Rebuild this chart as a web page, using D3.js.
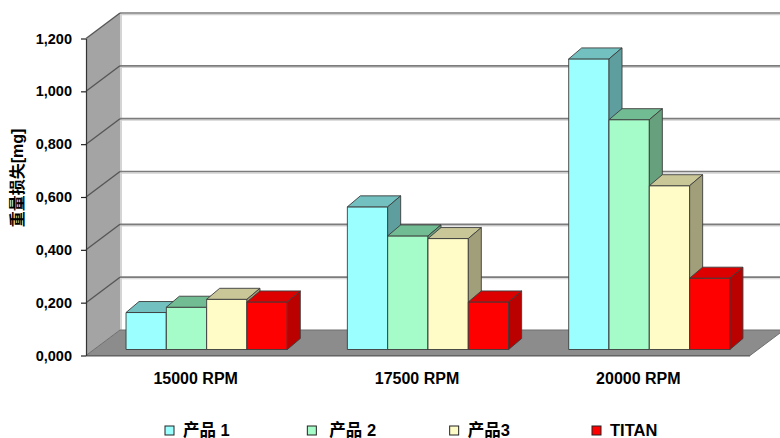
<!DOCTYPE html>
<html>
<head>
<meta charset="utf-8">
<script src="https://cdn.jsdelivr.net/npm/d3@7/dist/d3.min.js"></script>
<style>
  html, body { margin: 0; padding: 0; background: #fff; }
  svg { display: block; }
  text { font-family: "Liberation Sans", Arial, "Noto Sans CJK SC", sans-serif; font-weight: bold; fill: #000; }
</style>
</head>
<body>
<svg id="chart" width="780" height="438"></svg>
<script>
// Wear test: weight loss per speed for three products and TITAN
const categories = ["15000 RPM", "17500 RPM", "20000 RPM"];
const seriesNames = ["产品 1", "产品 2", "产品3", "TITAN"];
const product1 = [0.14, 0.54, 1.10];
const product2 = [0.16, 0.43, 0.87];
const product3 = [0.19, 0.42, 0.62];
const titan    = [0.18, 0.18, 0.27];
const yTicks = [0, 0.2, 0.4, 0.6, 0.8, 1.0, 1.2];
const yTickLabels = ["0,000", "0,200", "0,400", "0,600", "0,800", "1,000", "1,200"];
const yTitle = "重量损失[mg]";

const seriesValues = [product1, product2, product3, titan];

// face colours (front, top, right side)
const frontColors = ["#9cffff", "#a6fcc8", "#fffcc8", "#ff0000"];
const topColors   = ["#72c0c0", "#72bc94", "#c9c697", "#dd0000"];
const sideColors  = ["#5f9e9e", "#67a07d", "#a19f7a", "#bb0000"];

const svg = d3.select("#chart");

// oblique projection: front plane of the plot and depth offset to the back wall
const X0 = 86, X1 = 750;
const DX = 34, DY = -25.5;
// bars sit slightly behind the front plane and have their own depth
const BDX = 10, BDY = -6;
const BW_DX = 13, BW_DY = -11;

const y = d3.scaleLinear().domain([0, 1.2]).range([355.5, 38.5]);
const x = d3.scaleBand().domain(categories).range([X0, X1]).paddingInner(0).paddingOuter(0);
const xs = d3.scaleBand().domain(seriesNames).range([0, x.bandwidth()]).paddingInner(0).paddingOuter(0.745);

const poly = pts => "M" + pts.map(p => p.join(",")).join("L") + "Z";

// ---- walls and floor
const walls = svg.append("g");
// back wall
walls.append("path")
  .attr("d", poly([[X0 + DX, y(1.2) + DY], [X1 + DX + 10, y(1.2) + DY], [X1 + DX + 10, y(0) + DY], [X0 + DX, y(0) + DY]]))
  .attr("fill", "#ffffff");
// left side wall
walls.append("path")
  .attr("d", poly([[X0, y(1.2)], [X0 + DX, y(1.2) + DY], [X0 + DX, y(0) + DY], [X0, y(0)]]))
  .attr("fill", "#a4a4a4");
// light edge where the side wall meets the back wall
walls.append("line")
  .attr("x1", X0 + DX + 1).attr("x2", X0 + DX + 1)
  .attr("y1", y(1.2) + DY).attr("y2", y(0) + DY)
  .attr("stroke", "#d4d4d4").attr("stroke-width", 2);
// floor
walls.append("path")
  .attr("d", poly([[X0, y(0)], [X1, y(0)], [X1 + DX, y(0) + DY], [X0 + DX, y(0) + DY]]))
  .attr("fill", "#8c8c8c")
  .attr("stroke", "#6e6e6e").attr("stroke-width", 1);
walls.append("line")
  .attr("x1", X0).attr("x2", X1).attr("y1", y(0) + 0.5).attr("y2", y(0) + 0.5)
  .attr("stroke", "#5a5a5a").attr("stroke-width", 1.2);

// gridlines on the back and side walls
const grid = walls.append("g");
yTicks.filter(v => v > 0).forEach(v => {
  const yb = y(v) + DY;
  grid.append("line")
    .attr("x1", X0 + DX).attr("x2", 780).attr("y1", yb + 1.6).attr("y2", yb + 1.6)
    .attr("stroke", "#d2d2d2").attr("stroke-width", 1.2);
  grid.append("line")
    .attr("x1", X0 + DX).attr("x2", 780).attr("y1", yb).attr("y2", yb)
    .attr("stroke", "#7c7c7c").attr("stroke-width", 1.6);
  grid.append("line")
    .attr("x1", X0).attr("x2", X0 + DX).attr("y1", y(v)).attr("y2", yb)
    .attr("stroke", "#555").attr("stroke-width", 1.3);
});

// ---- bars, drawn left to right so the nearer faces overlap correctly
const bars = svg.append("g");
categories.forEach((cat, ci) => {
  seriesNames.forEach((name, si) => {
    const v = seriesValues[si][ci];
    const xl = x(cat) + xs(name) + BDX;
    const xr = xl + xs.bandwidth();
    const yt = y(v) + BDY;
    const yb = y(0) + BDY;
    const g = bars.append("g")
      .attr("stroke", "#3c3c3c").attr("stroke-width", 0.9).attr("stroke-linejoin", "round");
    g.append("path").attr("d", poly([[xl, yt], [xr, yt], [xr, yb], [xl, yb]])).attr("fill", frontColors[si]);
    g.append("path").attr("d", poly([[xl, yt], [xr, yt], [xr + BW_DX, yt + BW_DY], [xl + BW_DX, yt + BW_DY]])).attr("fill", topColors[si]);
    g.append("path").attr("d", poly([[xr, yt], [xr + BW_DX, yt + BW_DY], [xr + BW_DX, yb + BW_DY], [xr, yb]])).attr("fill", sideColors[si]);
  });
});

// ---- value axis on the front-left edge
const yAxis = d3.axisLeft(y)
  .tickValues(yTicks)
  .tickFormat((d, i) => yTickLabels[i])
  .tickSize(5).tickSizeOuter(0).tickPadding(9);
const ya = svg.append("g").attr("transform", `translate(${X0},0)`).call(yAxis);
ya.select(".domain").attr("stroke", "#333").attr("stroke-width", 1.2);
ya.selectAll(".tick line").attr("stroke", "#222").attr("stroke-width", 1.2);
ya.selectAll(".tick text")
  .style("font-family", "'Liberation Sans', Arial, sans-serif")
  .style("font-weight", "bold").style("font-size", "14.5px").attr("fill", "#000");

// axis title
svg.append("text")
  .attr("transform", `translate(23,178) rotate(-90)`)
  .attr("text-anchor", "middle")
  .style("font-size", "16px")
  .text(yTitle);

// ---- category labels
svg.append("g").selectAll("text").data(categories).join("text")
  .attr("x", d => x(d) + x.bandwidth() / 2 - 1)
  .attr("y", 384)
  .attr("text-anchor", "middle")
  .style("font-size", "16px")
  .text(d => d);

// ---- legend
const legend = svg.append("g");
const legendX = d3.scalePoint().domain(seriesNames).range([165, 592]);
seriesNames.forEach((name, i) => {
  const lx = legendX(name);
  legend.append("rect")
    .attr("x", lx).attr("y", 426).attr("width", 9).attr("height", 9)
    .attr("fill", frontColors[i]).attr("stroke", "#222").attr("stroke-width", 1);
  legend.append("text")
    .attr("x", lx + (i === 1 ? 22 : 18)).attr("y", 435.5)
    .style("font-size", "16.5px")
    .text(name);
});
</script>
</body>
</html>
